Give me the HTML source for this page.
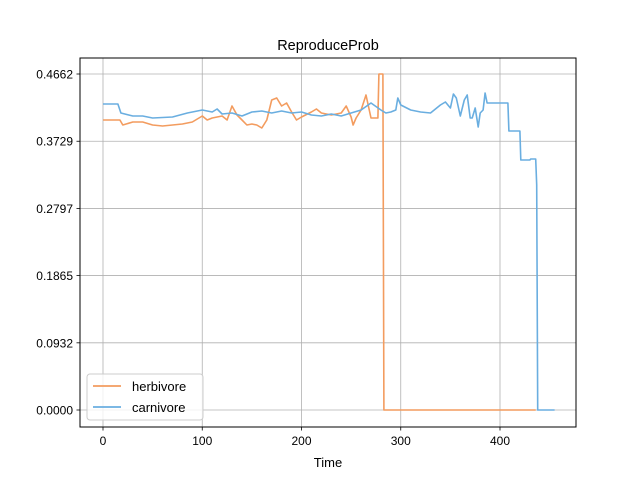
<!DOCTYPE html>
<html><head><meta charset="utf-8"><style>
body{margin:0;background:#fff;}
svg{display:block;font-family:"Liberation Sans","DejaVu Sans",sans-serif;}
</style></head><body>
<svg id="chart" width="640" height="480" viewBox="0 0 640 480">
<rect width="640" height="480" fill="#fff"/>
<g id="grid"></g>
<g id="series"></g>
<rect x="80" y="58" width="496" height="369" fill="none" stroke="#000" stroke-width="1"/>
<g id="ticks"></g>
<text x="328" y="50" font-size="14.5" text-anchor="middle">ReproduceProb</text>
<text x="328" y="467" font-size="13" text-anchor="middle">Time</text>
<g>
<rect x="87" y="374" width="116" height="46" rx="3" fill="#fff" fill-opacity="0.8" stroke="#ccc"/>
<g><line x1="93" y1="386" x2="121" y2="386" stroke="#f39c5f" stroke-width="1.7"/><text x="132" y="391" font-size="13">herbivore</text></g>
<g><line x1="93" y1="407" x2="121" y2="407" stroke="#6aaee0" stroke-width="1.7"/><text x="132" y="412" font-size="13">carnivore</text></g>
</g>
</svg>
<script>
const xTicks=[0,100,200,300,400];
const yTicks=[0.0000,0.0932,0.1865,0.2797,0.3729,0.4662];
const herbX=[0,17,20,30,40,50,60,70,80,90,100,105,110,120,125,130,135,140,145,150,155,160,165,170,175,180,185,190,195,200,210,215,220,230,240,245,250,252,255,260,265,270,277,278,282,283,436];
const herbY=[0.4024,0.4024,0.3954,0.3996,0.3996,0.3954,0.3941,0.3954,0.3968,0.3996,0.4079,0.4024,0.4052,0.4079,0.4024,0.4218,0.4093,0.4024,0.3954,0.3968,0.3954,0.3913,0.4024,0.4301,0.4329,0.4218,0.4260,0.4135,0.4024,0.4065,0.4135,0.4176,0.4121,0.4093,0.4121,0.4218,0.4065,0.3954,0.4052,0.4163,0.4371,0.4052,0.4052,0.4662,0.4662,0,0];
const carnX=[0,15,18,30,40,50,70,85,100,110,115,120,130,140,150,160,170,180,190,200,210,220,230,240,250,260,270,280,285,290,295,297,300,310,320,330,340,345,350,353,356,360,364,367,370,372,375,378,380,383,385,387,408,409,420,421,430,431,436,437,438,455];
const carnY=[0.4246,0.4246,0.4121,0.4079,0.4079,0.4052,0.4065,0.4121,0.4163,0.4135,0.4176,0.4107,0.4121,0.4079,0.4135,0.4149,0.4121,0.4149,0.4121,0.4135,0.4093,0.4079,0.4107,0.4079,0.4121,0.4163,0.4260,0.4163,0.4121,0.4135,0.4163,0.4329,0.4232,0.4163,0.4135,0.4121,0.4232,0.4274,0.4190,0.4385,0.4329,0.4079,0.4301,0.4371,0.4052,0.4052,0.4190,0.3927,0.4121,0.4163,0.4398,0.4260,0.4260,0.3871,0.3871,0.3469,0.3469,0.3483,0.3483,0.3122,0,0];
const NS='http://www.w3.org/2000/svg';
function xs(v){return 103+v*0.9925;}
function ys(v){return 410-v/0.4662*336;}
const grid=document.getElementById('grid'),ticks=document.getElementById('ticks'),ser=document.getElementById('series');
function mk(tag,attrs,parent){const e=document.createElementNS(NS,tag);for(const k in attrs)e.setAttribute(k,attrs[k]);parent.appendChild(e);return e;}
xTicks.forEach(t=>{const x=xs(t);
 const g=mk('line',{x1:x,x2:x,y1:58,y2:427,stroke:'#b0b0b0','stroke-width':0.8},grid);
 
 
 mk('line',{x1:x,x2:x,y1:427,y2:430.5,stroke:'#000','stroke-width':0.8},ticks);
 const tx=mk('text',{x:x,y:445,'font-size':12,'text-anchor':'middle'},ticks);tx.textContent=t;
 
 
});
yTicks.forEach(t=>{const y=ys(t);
 const g=mk('line',{x1:80,x2:576,y1:y,y2:y,stroke:'#b0b0b0','stroke-width':0.8},grid);
 
 
 mk('line',{x1:76.5,x2:80,y1:y,y2:y,stroke:'#000','stroke-width':0.8},ticks);
 const tx=mk('text',{x:73,y:y+4.5,'font-size':12,'text-anchor':'end'},ticks);tx.textContent=t.toFixed(4);
 
 
});
function line(X,Y,color,name){const d=X.map((x,i)=>(i?'L':'M')+xs(x).toFixed(1)+' '+ys(Y[i]).toFixed(1)).join(' ');
 const p=mk('path',{d:d,fill:'none',stroke:color,'stroke-width':1.6,'stroke-linejoin':'round'},ser);
 
 }
line(herbX,herbY,'#f39c5f','herbivore-line');
line(carnX,carnY,'#6aaee0','carnivore-line');
</script>
</body></html>
